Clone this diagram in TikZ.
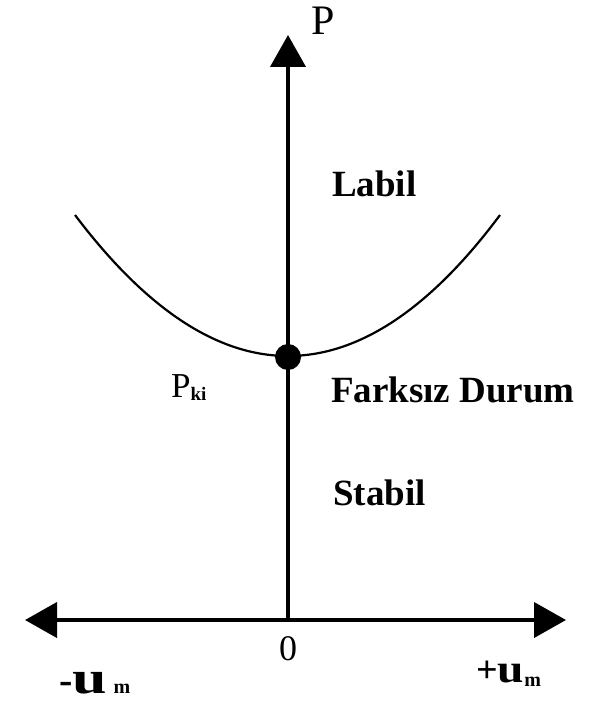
\documentclass[tikz,border=0pt]{standalone}
\usepackage{fontspec}
\setmainfont{Liberation Serif}
\usetikzlibrary{arrows.meta}
\begin{document}
\begin{tikzpicture}[x=1pt,y=-1pt,
  axis/.style={line width=4pt,-{Triangle[length=32pt,width=35pt]}},
  lbl/.style={font=\fontsize{37}{40}\selectfont\bfseries,inner sep=0pt,anchor=base west},
  rlbl/.style={font=\fontsize{42}{44}\selectfont,inner sep=0pt,anchor=base west}]
\useasboundingbox (0,0) rectangle (598,703);
\coordinate (O) at (288,620);
\coordinate (top) at (288,35);
\coordinate (left) at (25,620);
\coordinate (right) at (566,620);
\coordinate (L) at (75,215);
\coordinate (R) at (500,215);
\draw[axis] (O) -- (top);
\draw[axis,{Triangle[length=32pt,width=35pt]}-{Triangle[length=32pt,width=35pt]}] (left) -- (right);
\draw[line width=2.2pt] (L) .. controls (146,309) and (217,356) .. (288,356)
  .. controls (359,356) and (430,309) .. (R);
\fill (288,357) circle (13pt) coordinate (dot);
\node[rlbl] (P) at (311,35) {P};
\node[lbl] (labil) at (332,197) {Labil};
\node[lbl] (fark) at (331,402) {Farksız Durum};
\node[lbl] (stabil) at (333,505) {Stabil};
\node[inner sep=0pt,anchor=base west] (pki) at (171,397) {\fontsize{35}{38}\selectfont P\textbf{\fontsize{19}{20}\selectfont\raisebox{-3pt}{ki}}};
\node[inner sep=0pt,anchor=base] (zero) at (288,660) {\fontsize{36}{38}\selectfont 0};
\node[inner sep=0pt,anchor=base west] (mu) at (59,693) {\fontsize{40}{44}\selectfont\bfseries -\scalebox{1.55}[1.15]{u}\,\fontsize{20}{22}\selectfont m};
\node[inner sep=0pt,anchor=base west] (pu) at (476,682) {\fontsize{38}{42}\selectfont\bfseries +\scalebox{1.25}[1.05]{u}\fontsize{20}{22}\selectfont\raisebox{-4pt}{m}};
\end{tikzpicture}
\end{document}
